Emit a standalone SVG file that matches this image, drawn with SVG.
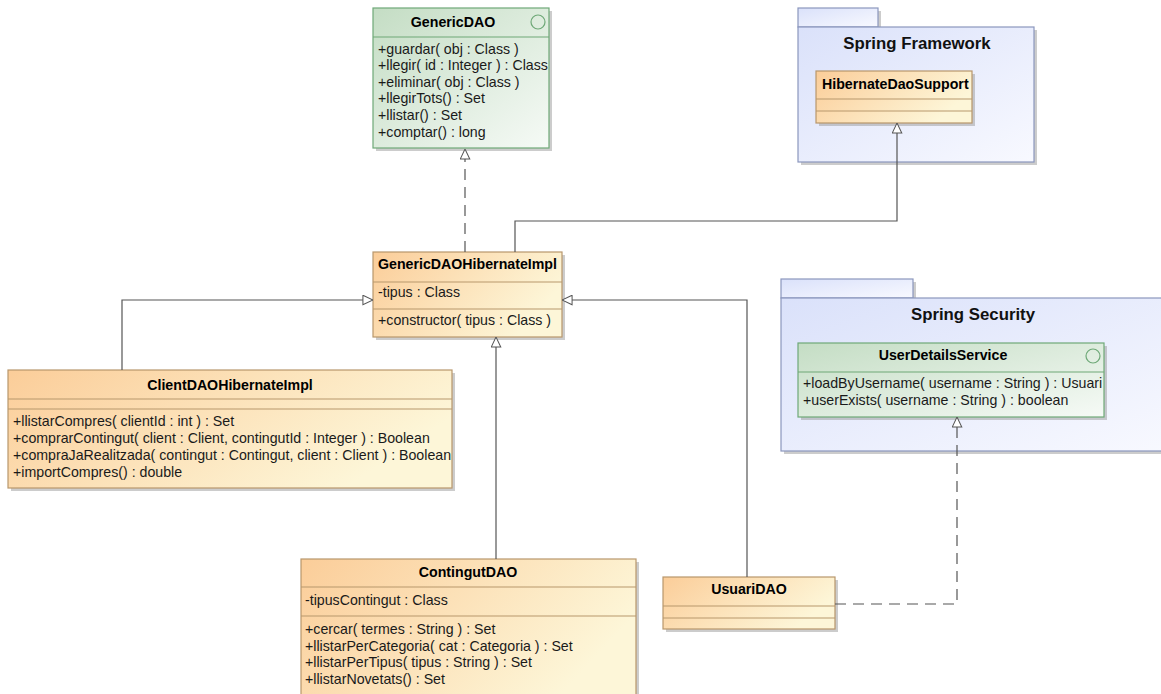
<svg xmlns="http://www.w3.org/2000/svg" width="1161" height="694" viewBox="0 0 1161 694">
<style>
text{font-family:"Liberation Sans",Arial,sans-serif;fill:#1a1a1a}
.t{font-size:14.2px;font-weight:bold;fill:#000}
.m{font-size:14.2px}
.p{font-size:16.8px;font-weight:bold;fill:#111}
.cls{fill:url(#gCls);stroke:#b8976c;stroke-width:1.2}
.cdiv{stroke:#b8976c;stroke-width:1.2}
.ifc{fill:url(#gIfc);stroke:#6ea877;stroke-width:1.2}
.idiv{stroke:#6ea877;stroke-width:1.2}
.pkg{fill:url(#gPkg);stroke:#8b97bd;stroke-width:1.2}
.sh{fill:#9a9a9a;opacity:0.5}
.c{fill:none;stroke:#555;stroke-width:1.2}
.d{stroke-dasharray:11 7}
</style>
<defs>
<linearGradient id="gCls" x1="0" y1="0" x2="1" y2="0.4">
<stop offset="0" stop-color="#fbcd99"/>
<stop offset="1" stop-color="#fdf6d8"/>
</linearGradient>
<linearGradient id="gIfc" x1="0" y1="0" x2="1" y2="1">
<stop offset="0" stop-color="#c4ddc4"/>
<stop offset="1" stop-color="#f6faf6"/>
</linearGradient>
<linearGradient id="gPkg" x1="0" y1="0" x2="1" y2="1">
<stop offset="0" stop-color="#dae1fa"/>
<stop offset="1" stop-color="#f8f9ff"/>
</linearGradient>
<marker id="tri" viewBox="0 0 12 12" refX="11.5" refY="6" markerWidth="11" markerHeight="11" orient="auto" markerUnits="userSpaceOnUse">
<path d="M0.5,0.8 L11.5,6 L0.5,11.2 Z" fill="#fff" stroke="#555" stroke-width="1.1" stroke-dasharray="none"/>
</marker>
</defs>
<rect width="1161" height="694" fill="#fff"/>

<g id="pkg-spring-framework">
<rect class="sh" x="801" y="11" width="80" height="19"/>
<rect class="sh" x="801" y="30" width="236" height="135"/>
<rect class="pkg" x="798" y="8" width="80" height="19"/>
<rect class="pkg" x="798" y="27" width="236" height="135"/>
<text class="p" x="917" y="49" text-anchor="middle">Spring Framework</text>
</g>

<g id="pkg-spring-security">
<rect class="sh" x="784" y="282" width="132" height="19"/>
<rect class="sh" x="784" y="301" width="390" height="153"/>
<rect class="pkg" x="781" y="279" width="132" height="19"/>
<rect class="pkg" x="781" y="298" width="390" height="153"/>
<text class="p" x="973" y="320" text-anchor="middle">Spring Security</text>
</g>

<g id="GenericDAO">
<rect class="sh" x="376" y="11" width="176" height="140"/>
<rect class="ifc" x="373" y="8" width="176" height="140"/>
<line class="idiv" x1="373" y1="37" x2="549" y2="37"/>
<circle cx="538" cy="22" r="7" fill="none" stroke="#6ea877" stroke-width="1.2"/>
<text class="t" x="453" y="27" text-anchor="middle">GenericDAO</text>
<text class="m" x="378" y="54">+guardar( obj : Class )</text>
<text class="m" x="378" y="70">+llegir( id : Integer ) : Class</text>
<text class="m" x="378" y="87">+eliminar( obj : Class )</text>
<text class="m" x="378" y="103">+llegirTots() : Set</text>
<text class="m" x="378" y="120">+llistar() : Set</text>
<text class="m" x="378" y="137">+comptar() : long</text>
</g>

<g id="HibernateDaoSupport">
<rect class="sh" x="819" y="74" width="156" height="52"/>
<rect class="cls" x="816" y="71" width="156" height="52"/>
<line class="cdiv" x1="816" y1="99" x2="972" y2="99"/>
<line class="cdiv" x1="816" y1="111" x2="972" y2="111"/>
<text class="t" x="822" y="89">HibernateDaoSupport</text>
</g>

<g id="GenericDAOHibernateImpl">
<rect class="sh" x="376" y="255" width="189" height="85"/>
<rect class="cls" x="373" y="252" width="189" height="85"/>
<line class="cdiv" x1="373" y1="282" x2="562" y2="282"/>
<line class="cdiv" x1="373" y1="309" x2="562" y2="309"/>
<text class="t" x="378" y="269">GenericDAOHibernateImpl</text>
<text class="m" x="378" y="297">-tipus : Class</text>
<text class="m" x="378" y="325">+constructor( tipus : Class )</text>
</g>

<g id="ClientDAOHibernateImpl">
<rect class="sh" x="11" y="373" width="444" height="118"/>
<rect class="cls" x="8" y="370" width="444" height="118"/>
<line class="cdiv" x1="8" y1="399" x2="452" y2="399"/>
<line class="cdiv" x1="8" y1="409" x2="452" y2="409"/>
<text class="t" x="230" y="390" text-anchor="middle">ClientDAOHibernateImpl</text>
<text class="m" x="13" y="426">+llistarCompres( clientId : int ) : Set</text>
<text class="m" x="13" y="443">+comprarContingut( client : Client, contingutId : Integer ) : Boolean</text>
<text class="m" x="13" y="460">+compraJaRealitzada( contingut : Contingut, client : Client ) : Boolean</text>
<text class="m" x="13" y="477">+importCompres() : double</text>
</g>

<g id="UserDetailsService">
<rect class="sh" x="801" y="346" width="306" height="74"/>
<rect class="ifc" x="798" y="343" width="306" height="74"/>
<line class="idiv" x1="798" y1="372" x2="1104" y2="372"/>
<circle cx="1093" cy="356" r="7" fill="none" stroke="#6ea877" stroke-width="1.2"/>
<text class="t" x="943" y="360" text-anchor="middle">UserDetailsService</text>
<text class="m" x="803" y="388">+loadByUsername( username : String ) : Usuari</text>
<text class="m" x="803" y="405">+userExists( username : String ) : boolean</text>
</g>

<g id="ContingutDAO">
<rect class="sh" x="304" y="562" width="335" height="140"/>
<rect class="cls" x="301" y="559" width="335" height="140"/>
<line class="cdiv" x1="301" y1="587" x2="636" y2="587"/>
<line class="cdiv" x1="301" y1="616" x2="636" y2="616"/>
<text class="t" x="468" y="577" text-anchor="middle">ContingutDAO</text>
<text class="m" x="305" y="605">-tipusContingut : Class</text>
<text class="m" x="305" y="634">+cercar( termes : String ) : Set</text>
<text class="m" x="305" y="651">+llistarPerCategoria( cat : Categoria ) : Set</text>
<text class="m" x="305" y="667">+llistarPerTipus( tipus : String ) : Set</text>
<text class="m" x="305" y="684">+llistarNovetats() : Set</text>
</g>

<g id="UsuariDAO">
<rect class="sh" x="666" y="580" width="172" height="52"/>
<rect class="cls" x="663" y="577" width="172" height="52"/>
<line class="cdiv" x1="663" y1="606" x2="835" y2="606"/>
<line class="cdiv" x1="663" y1="618" x2="835" y2="618"/>
<text class="t" x="749" y="594" text-anchor="middle">UsuariDAO</text>
</g>

<g id="connectors">
<path class="c d" d="M465,252 L465,149" marker-end="url(#tri)"/>
<path class="c" d="M515,252 L515,221 L897,221 L897,123" marker-end="url(#tri)"/>
<path class="c" d="M122,370 L122,300 L373,300" marker-end="url(#tri)"/>
<path class="c" d="M496,559 L496,337" marker-end="url(#tri)"/>
<path class="c" d="M747,577 L747,300 L562,300" marker-end="url(#tri)"/>
<path class="c d" d="M835,604 L957,604 L957,417" marker-end="url(#tri)"/>
</g>
</svg>
